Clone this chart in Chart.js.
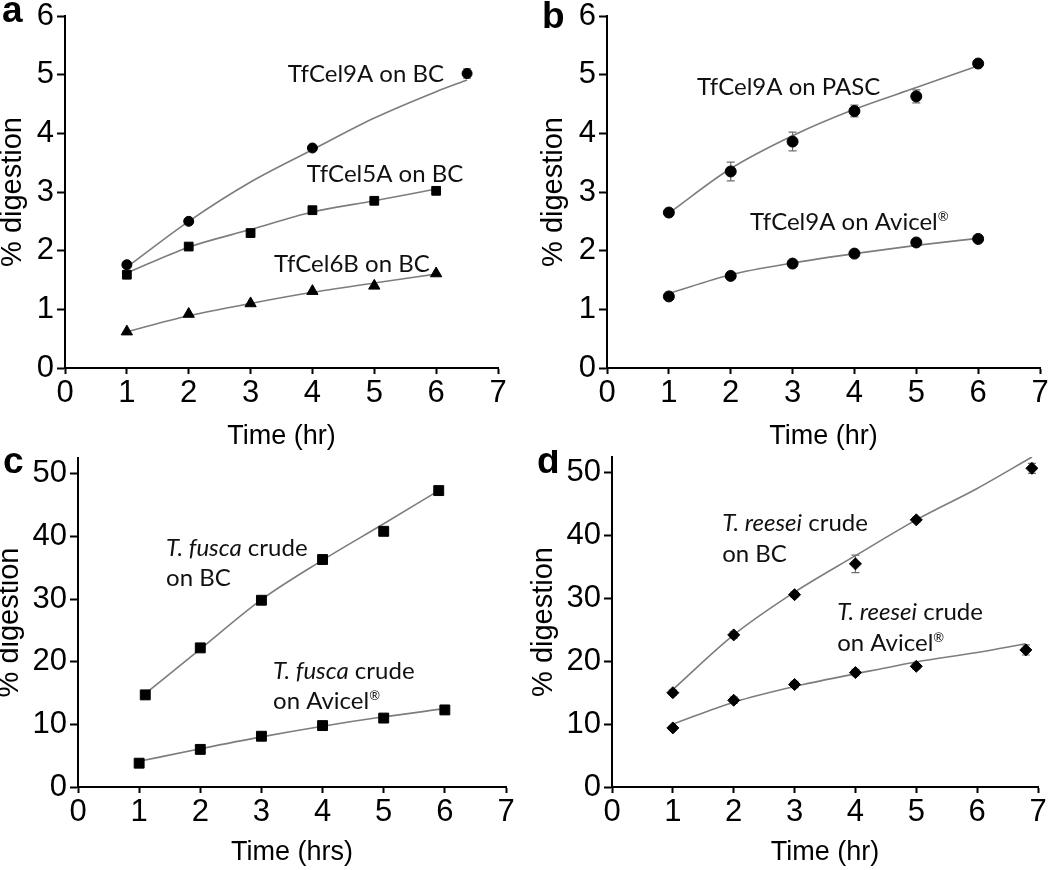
<!DOCTYPE html>
<html><head><meta charset="utf-8">
<script src="https://cdn.jsdelivr.net/npm/chart.js@4/dist/chart.umd.min.js"></script>
<style>
html,body{margin:0;padding:0;background:#fff;}
#wrap{position:relative;width:1050px;height:870px;overflow:hidden;}
#wrap canvas{position:absolute;}
</style></head><body>
<div id="wrap">
<canvas id="ca" width="525" height="450" style="left:0;top:0"></canvas>
<canvas id="cb" width="525" height="450" style="left:525px;top:0"></canvas>
<canvas id="cc" width="525" height="420" style="left:0;top:450px"></canvas>
<canvas id="cd" width="525" height="420" style="left:525px;top:450px"></canvas>
</div>
<script>
// ---------- Tick labels ----------
const xTicks = [0, 1, 2, 3, 4, 5, 6, 7];
const yTicksSmall = [0, 1, 2, 3, 4, 5, 6];
const yTicksLarge = [0, 10, 20, 30, 40, 50];

// ---------- Panel a ----------
const timeA9 = [1, 2, 4, 6.5];
const cel9aBC = [1.76, 2.50, 3.75, 5.02];
const cel9aBCErr = [0.02, 0.02, 0.02, 0.08];
const timeA = [1, 2, 3, 4, 5, 6];
const cel5aBC = [1.59, 2.07, 2.30, 2.69, 2.85, 3.02];
const cel6bBC = [0.62, 0.92, 1.10, 1.31, 1.40, 1.61];
const fitTimeA9 = [1, 2, 3, 4, 5, 6, 6.5];
const fitCel9aBC = [1.72, 2.50, 3.17, 3.72, 4.26, 4.71, 4.91];
const fitCel5aBC = [1.62, 2.06, 2.36, 2.66, 2.85, 3.05];
const fitCel6bBC = [0.62, 0.89, 1.10, 1.29, 1.45, 1.60];

// ---------- Panel b ----------
const timeB = [1, 2, 3, 4, 5, 6];
const cel9aPASC = [2.65, 3.35, 3.86, 4.38, 4.63, 5.19];
const cel9aPASCErr = [0.06, 0.16, 0.16, 0.10, 0.11, 0.03];
const cel9aAvicel = [1.22, 1.57, 1.78, 1.95, 2.14, 2.20];
const cel9aAvicelErr = [0.02, 0.02, 0.02, 0.02, 0.02, 0.02];
const fitCel9aPASC = [2.64, 3.40, 3.96, 4.41, 4.78, 5.15];
const fitCel9aAvicel = [1.27, 1.59, 1.79, 1.95, 2.09, 2.21];

// ---------- Panel c ----------
const timeCBC = [1.1, 2, 3, 4, 5, 5.9];
const fuscaBC = [14.7, 22.2, 29.8, 36.3, 40.8, 47.3];
const fuscaBCErr = [0.3, 0.3, 0.3, 0.6, 0.3, 0.3];
const timeCAv = [1, 2, 3, 4, 5, 6];
const fuscaAvicel = [3.8, 6.0, 8.1, 9.8, 11.0, 12.3];
const fitFuscaBC = [14.9, 22.0, 29.9, 36.2, 42.0, 47.3];
const fitFuscaAvicel = [4.1, 6.1, 8.0, 9.7, 11.2, 12.5];

// ---------- Panel d ----------
const timeDBC = [1, 2, 3, 4, 5, 6.9];
const reeseiBC = [15.0, 24.2, 30.6, 35.5, 42.5, 50.7];
const reeseiBCErr = [0.4, 0.5, 0.4, 1.4, 0.4, 0.8];
const timeDAv = [1, 2, 3, 4, 5, 6.8];
const reeseiAvicel = [9.4, 13.8, 16.3, 18.2, 19.2, 21.8];
const reeseiAvicelErr = [0.3, 0.5, 0.5, 0.5, 0.4, 0.8];
const fitTimeDBC = [1, 2, 3, 4, 5, 6, 6.9];
const fitReeseiBC = [15.5, 24.2, 31.0, 36.8, 42.5, 47.5, 52.5];
const fitTimeDAv = [1, 2, 3, 4, 5, 6, 6.8];
const fitReeseiAvicel = [10.0, 13.5, 16.0, 18.0, 19.9, 21.4, 22.8];

// ---------- Texts ----------
const xTitleHr = 'Time (hr)';
const xTitleHrs = 'Time (hrs)';
const yTitle = '% digestion';

const pts = (xs, ys) => xs.map((x, i) => ({x: x, y: ys[i]}));

const AXFONT = '"Liberation Sans", Arial, Helvetica, sans-serif';
const NOTEFONT = 'Lato, "Open Sans", sans-serif';

const errPlugin = {
  id: 'errbars',
  beforeDatasetsDraw(chart) {
    const ctx = chart.ctx, ys = chart.scales.y;
    ctx.save();
    ctx.strokeStyle = '#6e6e6e';
    ctx.lineWidth = 1.2;
    chart.data.datasets.forEach((ds, di) => {
      if (!ds.errors) return;
      const meta = chart.getDatasetMeta(di);
      meta.data.forEach((el, i) => {
        const e = ds.errors[i];
        if (!e) return;
        const v = ds.data[i].y;
        const y1 = ys.getPixelForValue(v + e), y2 = ys.getPixelForValue(v - e);
        const x = el.x, c = 4;
        ctx.beginPath();
        ctx.moveTo(x, y1); ctx.lineTo(x, y2);
        ctx.moveTo(x - c, y1); ctx.lineTo(x + c, y1);
        ctx.moveTo(x - c, y2); ctx.lineTo(x + c, y2);
        ctx.stroke();
      });
    });
    ctx.restore();
  }
};

const notesPlugin = {
  id: 'notes',
  afterDatasetsDraw(chart, args, opts) {
    const ctx = chart.ctx, xs = chart.scales.x, ys = chart.scales.y;
    ctx.save();
    ctx.fillStyle = '#111';
    ctx.textAlign = 'left';
    ctx.textBaseline = 'alphabetic';
    (opts.items || []).forEach(it => {
      const px = xs.getPixelForValue(it.x), py = ys.getPixelForValue(it.y);
      it.lines.forEach((runs, li) => {
        let cx = px;
        const by = py + li * opts.lineGap;
        runs.forEach(r => {
          const size = r.sup ? Math.round(opts.size * 0.55) : opts.size;
          ctx.font = (r.italic ? 'italic ' : '') + size + 'px ' + NOTEFONT;
          ctx.fillText(r.t, cx, by - (r.sup ? opts.size * 0.36 : 0));
          cx += ctx.measureText(r.t).width;
        });
      });
    });
    ctx.fillStyle = '#000';
    ctx.font = 'bold 37px "Liberation Sans Narrow", "Liberation Sans", Arial, sans-serif';
    ctx.fillText(opts.letter, opts.letterX, opts.letterY);
    ctx.restore();
  }
};

function scalesFor(o) {
  return {
    x: {
      type: 'linear', min: 0, max: 7,
      afterBuildTicks(s) { s.ticks = xTicks.map(v => ({value: v})); },
      ticks: {color: '#000', font: {family: AXFONT, size: 31}, padding: 1, maxRotation: 0, autoSkip: false},
      grid: {drawOnChartArea: false, drawTicks: true, tickLength: 6, tickWidth: 2, tickColor: '#000'},
      border: {display: true, color: '#000', width: 2},
      title: {display: true, text: o.xTitle, color: '#000', font: {family: AXFONT, size: 27, lineHeight: 1}, padding: {top: 0, bottom: o.xTitlePad}},
      afterFit(s) { s.height = o.xHeight; s.paddingLeft = 0; s.paddingRight = 0; }
    },
    y: {
      type: 'linear', min: 0, max: o.yMax,
      afterBuildTicks(s) { s.ticks = o.yTicks.map(v => ({value: v})); },
      ticks: {color: '#000', font: {family: AXFONT, size: 31}, padding: 3},
      grid: {drawOnChartArea: false, drawTicks: true, tickLength: 8, tickWidth: 2, tickColor: '#000'},
      border: {display: true, color: '#000', width: 2},
      title: {display: true, text: yTitle, color: '#000', font: {family: AXFONT, size: 29, lineHeight: 1}, padding: {top: o.yTitlePad, bottom: 0}},
      afterFit(s) { s.width = o.yWidth; s.paddingTop = 0; s.paddingBottom = 0; }
    }
  };
}

function fitDs(xs, ys) {
  return {type: 'scatter', data: pts(xs, ys), showLine: true, pointRadius: 0, borderColor: '#7d7d7d',
          borderWidth: 1.6, cubicInterpolationMode: 'monotone', fill: false, order: 2};
}
function markDs(xs, ys, style, r, errs) {
  const d = {type: 'scatter', data: pts(xs, ys), showLine: false, pointStyle: style, pointRadius: r,
             backgroundColor: '#000', borderColor: '#000', borderWidth: 1, order: 1};
  if (errs) d.errors = errs;
  return d;
}

function makeChart(id, datasets, o, notes) {
  return new Chart(document.getElementById(id), {
    type: 'scatter',
    data: {datasets: datasets},
    options: {
      responsive: false, animation: false, events: [],
      layout: {padding: {left: 0, top: o.padTop, right: o.padRight, bottom: 0}},
      plugins: {legend: {display: false}, tooltip: {enabled: false}, notes: notes},
      scales: scalesFor(o)
    },
    plugins: [errPlugin, notesPlugin]
  });
}

// Panel a
makeChart('ca', [
  fitDs(fitTimeA9, fitCel9aBC), fitDs(timeA, fitCel5aBC), fitDs(timeA, fitCel6bBC),
  markDs(timeA9, cel9aBC, 'circle', 5, cel9aBCErr),
  markDs(timeA, cel5aBC, 'rect', 6.2),
  markDs(timeA, cel6bBC, 'triangle', 6.5)
], {xTitle: xTitleHr, xTitlePad: 0, xHeight: 82, yWidth: 65, yMax: 6, yTicks: yTicksSmall, yTitlePad: -2, padTop: 16, padRight: 27},
{size: 24, lineGap: 30, letter: 'a', letterX: 2, letterY: 22, items: [
  {x: 3.60, y: 4.87, lines: [[{t: 'TfCel9A on BC'}]]},
  {x: 3.91, y: 3.17, lines: [[{t: 'TfCel5A on BC'}]]},
  {x: 3.38, y: 1.64, lines: [[{t: 'TfCel6B on BC'}]]}
]});

// Panel b
makeChart('cb', [
  fitDs(timeB, fitCel9aPASC), fitDs(timeB, fitCel9aAvicel),
  markDs(timeB, cel9aPASC, 'circle', 5.5, cel9aPASCErr),
  markDs(timeB, cel9aAvicel, 'circle', 5.5, cel9aAvicelErr)
], {xTitle: xTitleHr, xTitlePad: 0, xHeight: 82, yWidth: 82, yMax: 6, yTicks: yTicksSmall, yTitlePad: 14, padTop: 16, padRight: 10},
{size: 24, lineGap: 30, letter: 'b', letterX: 17, letterY: 28, items: [
  {x: 1.455, y: 4.65, lines: [[{t: 'TfCel9A on PASC'}]]},
  {x: 2.31, y: 2.35, lines: [[{t: 'TfCel9A on Avicel'}, {t: '®', sup: true}]]}
]});

// Panel c
makeChart('cc', [
  fitDs(timeCBC, fitFuscaBC), fitDs(timeCAv, fitFuscaAvicel),
  markDs(timeCBC, fuscaBC, 'rect', 7, fuscaBCErr),
  markDs(timeCAv, fuscaAvicel, 'rect', 7)
], {xTitle: xTitleHrs, xTitlePad: 4, xHeight: 83, yWidth: 78, yMax: 52.5, yTicks: yTicksLarge, yTitlePad: -5, padTop: 3, padRight: 19},
{size: 24, lineGap: 30, letter: 'c', letterX: 3, letterY: 23, items: [
  {x: 1.44, y: 36.9, lines: [[{t: 'T. fusca', italic: true}, {t: ' crude'}], [{t: 'on BC'}]]},
  {x: 3.19, y: 17.3, lines: [[{t: 'T. fusca', italic: true}, {t: ' crude'}], [{t: 'on Avicel'}, {t: '®', sup: true}]]}
]});

// Panel d
makeChart('cd', [
  fitDs(fitTimeDBC, fitReeseiBC), fitDs(fitTimeDAv, fitReeseiAvicel),
  markDs(timeDBC, reeseiBC, 'rectRot', 6, reeseiBCErr),
  markDs(timeDAv, reeseiAvicel, 'rectRot', 6, reeseiAvicelErr)
], {xTitle: xTitleHr, xTitlePad: 4, xHeight: 83, yWidth: 87, yMax: 52.5, yTicks: yTicksLarge, yTitlePad: 4, padTop: 3, padRight: 12},
{size: 24, lineGap: 31, letter: 'd', letterX: 12, letterY: 23, items: [
  {x: 1.81, y: 40.7, lines: [[{t: 'T. reesei', italic: true}, {t: ' crude'}], [{t: 'on BC'}]]},
  {x: 3.70, y: 26.6, lines: [[{t: 'T. reesei', italic: true}, {t: ' crude'}], [{t: 'on Avicel'}, {t: '®', sup: true}]]}
]});
</script>
</body></html>
